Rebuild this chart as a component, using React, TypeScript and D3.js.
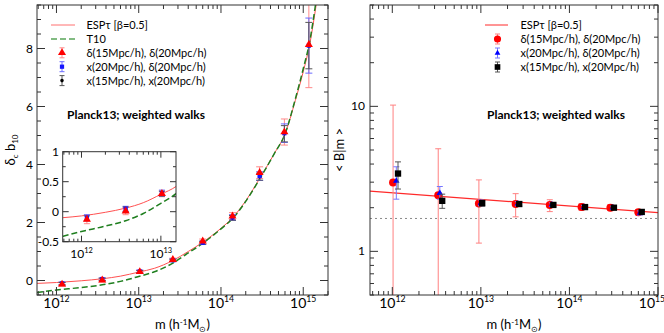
import React, { useEffect, useRef } from 'react';
import * as d3 from 'd3';

// ---- left panel: delta_c b10 vs m
const leftMass = [1.17e12, 3.6e12, 1.03e13, 2.6e13, 6.0e13, 1.38e14, 2.95e14, 5.9e14, 1.17e15];
const redTri = [-0.13, 0.01, 0.3, 0.72, 1.36, 2.22, 3.72, 5.12, 8.13];
const redTriErr = [0.07, 0.06, 0.05, 0.05, 0.07, 0.12, 0.2, 0.45, 1.48];
const blueSq = [-0.1, 0.05, 0.31, 0.7, 1.3, 2.17, 3.6, 5.08, 8.1];
const blueSqErr = [0.05, 0.04, 0.05, 0.05, 0.06, 0.1, 0.15, 0.32, 0.95];
const blackDot = [-0.11, 0.04, 0.3, 0.69, 1.3, 2.16, 3.58, 5.06, 8.1];
const blackDotErr = [0.04, 0.04, 0.04, 0.04, 0.05, 0.08, 0.12, 0.28, 0.8];

// curves
const curveMass = [5.8e11, 1e12, 2e12, 3.6e12, 6e12, 1e13, 1.55e13, 2.6e13, 4e13, 6e13, 1e14, 1.4e14, 2e14, 3e14, 4.5e14, 6e14, 8e14, 1e15, 1.2e15, 1.4e15, 1.7e15, 2e15];
const espVal = [-0.1, -0.07, -0.01, 0.06, 0.15, 0.29, 0.42, 0.69, 1.0, 1.32, 1.8, 2.18, 2.75, 3.55, 4.4, 5.05, 6.2, 7.2, 8.15, 9.3, 11.0, 12.8];
const t10Val = [-0.41, -0.33, -0.24, -0.15, -0.03, 0.14, 0.3, 0.6, 0.95, 1.28, 1.78, 2.15, 2.73, 3.53, 4.4, 5.05, 6.25, 7.3, 8.25, 9.45, 11.2, 13.0];

// ---- right panel: <B|m> vs m
const rMassRed = [1.02e12, 3.3e12, 9.5e12, 2.47e13, 6.0e13, 1.37e14, 2.9e14, 6.0e14];
const rRed = [2.98, 2.44, 2.14, 2.12, 2.09, 2.02, 2.0, 1.86];
const rRedHi = [10.2, 5.1, 3.11, 2.5, 2.27, 2.13, 2.1, 1.94];
const rRedLo = [0.1, 0.1, 1.14, 1.73, 1.88, 1.92, 1.91, 1.78];
const rMassBlue = [1.11e12, 3.44e12, 1.0e13, 2.62e13, 6.34e13, 1.46e14, 3.1e14, 6.27e14];
const rBlue = [3.06, 2.52, 2.16, 2.13, 2.1, 2.02, 2.0, 1.84];
const rBlueHi = [3.83, 2.8, 2.26, 2.2, 2.16, 2.07, 2.05, 1.9];
const rBlueLo = [2.29, 2.29, 2.06, 2.06, 2.04, 1.97, 1.95, 1.78];
const rMassBlack = [1.16e12, 3.66e12, 1.035e13, 2.71e13, 6.58e13, 1.5e14, 3.18e14, 6.55e14];
const rBlack = [3.44, 2.23, 2.15, 2.12, 2.09, 2.02, 2.0, 1.87];
const rBlackHi = [4.14, 2.48, 2.25, 2.2, 2.15, 2.07, 2.05, 1.93];
const rBlackLo = [2.69, 1.98, 2.05, 2.05, 2.03, 1.97, 1.95, 1.81];
const espBMass = [5.6e11, 1e15];
const espBVal = [2.6, 1.85];
const deltaC = 1.686;

const legendLeft = ['ESPτ [β=0.5]', 'T10', 'δ(15Mpc/h), δ(20Mpc/h)', 'x(20Mpc/h), δ(20Mpc/h)', 'x(15Mpc/h), x(20Mpc/h)'];
const legendRight = ['ESPτ [β=0.5]', 'δ(15Mpc/h), δ(20Mpc/h)', 'x(20Mpc/h), δ(20Mpc/h)', 'x(15Mpc/h), x(20Mpc/h)'];

function logTicks(lo, hi) {
  const out = [];
  for (let d = Math.floor(Math.log10(lo)); d <= Math.ceil(Math.log10(hi)); d++) {
    for (let k = 1; k < 10; k++) {
      const v = k * Math.pow(10, d);
      if (v >= lo * 0.999 && v <= hi * 1.001) out.push({ v, major: k === 1, exp: d });
    }
  }
  return out;
}

export default function App() {
  const svgRef = useRef(null);

  useEffect(() => {
    const svg = d3.select(svgRef.current);
    svg.selectAll('*').remove();
    svg.attr('font-family', 'Lato, "Open Sans", sans-serif');
    const axisCol = '#333';

    const clip = (id, x0, x1, y0, y1) => {
      svg.append('clipPath').attr('id', id).append('rect')
        .attr('x', x0).attr('y', y0).attr('width', x1 - x0).attr('height', y1 - y0);
    };

    const frame = (g, x0, x1, y0, y1) => {
      g.append('rect').attr('x', x0).attr('y', y0).attr('width', x1 - x0).attr('height', y1 - y0)
        .attr('fill', 'none').attr('stroke', axisCol).attr('stroke-width', 1);
    };

    const xTickMarks = (g, ticks, sx, y0, y1, big, small) => {
      ticks.forEach((t) => {
        const x = sx(t.v);
        const len = t.major ? big : small;
        g.append('line').attr('x1', x).attr('x2', x).attr('y1', y1).attr('y2', y1 - len).attr('stroke', axisCol);
        g.append('line').attr('x1', x).attr('x2', x).attr('y1', y0).attr('y2', y0 + len).attr('stroke', axisCol);
      });
    };
    const yTickMarks = (g, ticks, sy, x0, x1, big, small) => {
      ticks.forEach((t) => {
        const y = sy(t.v);
        const len = t.major ? big : small;
        g.append('line').attr('y1', y).attr('y2', y).attr('x1', x0).attr('x2', x0 + len).attr('stroke', axisCol);
        g.append('line').attr('y1', y).attr('y2', y).attr('x1', x1).attr('x2', x1 - len).attr('stroke', axisCol);
      });
    };
    const powLabel = (g, x, y, exp, size) => {
      const t = g.append('text').attr('x', x).attr('y', y).attr('text-anchor', 'middle').attr('font-size', size);
      t.append('tspan').text('10');
      t.append('tspan').attr('dy', -size * 0.45).attr('font-size', size * 0.62).text(exp);
    };
    const errBar = (g, x, yTop, yBot, color, cap) => {
      g.append('line').attr('x1', x).attr('x2', x).attr('y1', yTop).attr('y2', yBot).attr('stroke', color);
      [yTop, yBot].forEach((y) => {
        g.append('line').attr('x1', x - cap / 2).attr('x2', x + cap / 2).attr('y1', y).attr('y2', y).attr('stroke', color);
      });
    };
    const mark = (g, type, size, x, y, color) => {
      g.append('path').attr('d', d3.symbol().type(type).size(size)()).attr('fill', color)
        .attr('transform', `translate(${x},${y})`);
    };
    const massTitle = (g, x) => {
      g.append('text').attr('x', x).attr('y', 329).attr('text-anchor', 'middle').attr('font-size', 13)
        .call((t) => {
          t.append('tspan').text('m (h');
          t.append('tspan').attr('dy', -4).attr('font-size', 8).text('-1');
          t.append('tspan').attr('dy', 4).text('M');
          t.append('tspan').attr('dy', 3).attr('font-size', 8).text('⊙');
          t.append('tspan').attr('dy', -3).text(')');
        });
    };

    // ================= left panel
    const L = { x0: 37, x1: 328, y0: 5, y1: 295 };
    const xL = d3.scaleLog().domain([5.8e11, 2e15]).range([L.x0, L.x1]);
    const yL = d3.scaleLinear().domain([-0.5, 9.5]).range([L.y1, L.y0]);
    clip('clipL', L.x0, L.x1, L.y0, L.y1);
    const gL = svg.append('g');
    const pL = gL.append('g').attr('clip-path', 'url(#clipL)');

    const lineL = (vals) => d3.line().curve(d3.curveMonotoneX)
      .x((d, i) => xL(curveMass[i])).y((d) => yL(d))(vals);
    pL.append('path').attr('d', lineL(espVal)).attr('fill', 'none').attr('stroke', '#ff5050').attr('stroke-width', 1);
    pL.append('path').attr('d', lineL(t10Val)).attr('fill', 'none').attr('stroke', '#1f7f1f')
      .attr('stroke-width', 1.5).attr('stroke-dasharray', '6,3');

    const leftSeries = [
      { v: redTri, e: redTriErr, bar: '#ff8a8a', col: '#ff0000', type: d3.symbolTriangle, size: 28 },
      { v: blueSq, e: blueSqErr, bar: '#6a6aff', col: '#1515ff', type: d3.symbolSquare, size: 18 },
      { v: blackDot, e: blackDotErr, bar: '#555', col: '#000', type: d3.symbolCircle, size: 10 },
    ];
    const drawLeftPoints = (g, sx, sy, cap) => {
      leftSeries.forEach((s) => {
        leftMass.forEach((m, i) => errBar(g, sx(m), sy(s.v[i] + s.e[i]), sy(s.v[i] - s.e[i]), s.bar, cap));
      });
      [2, 1, 0].forEach((k) => {
        const s = leftSeries[k];
        leftMass.forEach((m, i) => mark(g, s.type, s.size, sx(m), sy(s.v[i]), s.col));
      });
    };
    drawLeftPoints(pL, xL, yL, 7);

    frame(gL, L.x0, L.x1, L.y0, L.y1);
    const xtL = logTicks(5.8e11, 2e15);
    xTickMarks(gL, xtL, xL, L.y0, L.y1, 8, 4);
    const ytL = d3.range(-0.5, 9.51, 0.5).map((v) => ({ v, major: Math.abs(v % 2) < 1e-9 }));
    yTickMarks(gL, ytL, yL, L.x0, L.x1, 8, 4);
    ytL.filter((t) => t.major).forEach((t) => {
      gL.append('text').attr('x', 33).attr('y', yL(t.v) + 4).attr('text-anchor', 'end').attr('font-size', 12).text(t.v);
    });
    xtL.filter((t) => t.major).forEach((t) => powLabel(gL, xL(t.v), 308, t.exp, 14));
    massTitle(gL, (L.x0 + L.x1) / 2);
    gL.append('text').attr('transform', `translate(15,${(L.y0 + L.y1) / 2}) rotate(-90)`).attr('text-anchor', 'middle')
      .attr('font-size', 13)
      .call((t) => {
        t.append('tspan').text('δ');
        t.append('tspan').attr('dy', 3).attr('font-size', 8).text('c');
        t.append('tspan').attr('dy', -3).text(' b');
        t.append('tspan').attr('dy', 3).attr('font-size', 8).text('10');
      });
    gL.append('text').attr('x', 67).attr('y', 119).attr('font-size', 12).attr('font-weight', 'bold')
      .text('Planck13; weighted walks');

    // legend left
    const lgY = (i) => 25 + i * 13.9;
    gL.append('line').attr('x1', 51).attr('x2', 75).attr('y1', lgY(0)).attr('y2', lgY(0)).attr('stroke', '#ff7070');
    gL.append('line').attr('x1', 51).attr('x2', 75).attr('y1', lgY(1)).attr('y2', lgY(1)).attr('stroke', '#5aa55a')
      .attr('stroke-width', 1.5).attr('stroke-dasharray', '6,3');
    leftSeries.forEach((s, k) => {
      const y = lgY(k + 2);
      errBar(gL, 62, y - 5, y + 5, s.bar, 5);
      mark(gL, s.type, s.size, 62, y, s.col);
    });
    legendLeft.forEach((txt, i) => {
      gL.append('text').attr('x', 86.5).attr('y', lgY(i) + 4).attr('font-size', 11).text(txt);
    });

    // inset
    const I = { x0: 62.7, x1: 176, y0: 151.7, y1: 241.7 };
    const xI = d3.scaleLog().domain([5.8e11, 1.55e13]).range([I.x0, I.x1]);
    const yI = d3.scaleLinear().domain([-0.5, 1]).range([I.y1, I.y0]);
    clip('clipI', I.x0, I.x1, I.y0, I.y1);
    const gI = svg.append('g');
    gI.append('rect').attr('x', I.x0).attr('y', I.y0).attr('width', I.x1 - I.x0).attr('height', I.y1 - I.y0).attr('fill', '#fff');
    const pI = gI.append('g').attr('clip-path', 'url(#clipI)');
    const lineI = (vals) => d3.line().curve(d3.curveMonotoneX)
      .x((d, i) => xI(curveMass[i])).y((d) => yI(d))(vals);
    pI.append('path').attr('d', lineI(espVal)).attr('fill', 'none').attr('stroke', '#ff5050').attr('stroke-width', 1);
    pI.append('path').attr('d', lineI(t10Val)).attr('fill', 'none').attr('stroke', '#1f7f1f')
      .attr('stroke-width', 1.5).attr('stroke-dasharray', '6,3');
    drawLeftPoints(pI, xI, yI, 6);
    frame(gI, I.x0, I.x1, I.y0, I.y1);
    const xtI = logTicks(5.8e11, 1.55e13);
    xTickMarks(gI, xtI, xI, I.y0, I.y1, 6, 3);
    const ytI = d3.range(-0.5, 1.01, 0.25).map((v) => ({ v, major: Math.abs(v % 0.5) < 1e-9 }));
    yTickMarks(gI, ytI, yI, I.x0, I.x1, 6, 3);
    ytI.filter((t) => t.major).forEach((t) => {
      gI.append('text').attr('x', 59).attr('y', yI(t.v) + 4).attr('text-anchor', 'end').attr('font-size', 12)
        .text(String(t.v));
    });
    xtI.filter((t) => t.major).forEach((t) => powLabel(gI, xI(t.v), 258, t.exp, 12));

    // ================= right panel
    const R = { x0: 370, x1: 658, y0: 5, y1: 295 };
    const xR = d3.scaleLog().domain([5.6e11, 1e15]).range([R.x0, R.x1]);
    const yR = d3.scaleLog().domain([0.5, 50]).range([R.y1, R.y0]);
    clip('clipR', R.x0, R.x1, R.y0, R.y1);
    const gR = svg.append('g');
    const pR = gR.append('g').attr('clip-path', 'url(#clipR)');

    pR.append('line').attr('x1', R.x0).attr('x2', R.x1).attr('y1', yR(deltaC)).attr('y2', yR(deltaC))
      .attr('stroke', '#888').attr('stroke-dasharray', '2,3');
    pR.append('path').attr('d', d3.line().x((d, i) => xR(espBMass[i])).y((d) => yR(d))(espBVal))
      .attr('fill', 'none').attr('stroke', '#ff2a2a').attr('stroke-width', 1.2);

    const rightSeries = [
      { m: rMassRed, v: rRed, hi: rRedHi, lo: rRedLo, bar: '#ff8080', col: '#ff0000', type: d3.symbolCircle, size: 50 },
      { m: rMassBlue, v: rBlue, hi: rBlueHi, lo: rBlueLo, bar: '#7777ff', col: '#0000ff', type: d3.symbolTriangle, size: 18 },
      { m: rMassBlack, v: rBlack, hi: rBlackHi, lo: rBlackLo, bar: '#555', col: '#000', type: d3.symbolSquare, size: 40 },
    ];
    rightSeries.forEach((s) => {
      s.m.forEach((m, i) => errBar(pR, xR(m), yR(s.hi[i]), yR(s.lo[i]), s.bar, 6));
      s.m.forEach((m, i) => mark(pR, s.type, s.size, xR(m), yR(s.v[i]), s.col));
    });

    frame(gR, R.x0, R.x1, R.y0, R.y1);
    const xtR = logTicks(5.6e11, 1e15);
    xTickMarks(gR, xtR, xR, R.y0, R.y1, 8, 4);
    const ytR = logTicks(0.5, 50);
    yTickMarks(gR, ytR, yR, R.x0, R.x1, 8, 4);
    ytR.filter((t) => t.major).forEach((t) => {
      gR.append('text').attr('x', 365).attr('y', yR(t.v) + 4).attr('text-anchor', 'end').attr('font-size', 12).text(t.v);
    });
    xtR.filter((t) => t.major).forEach((t) => powLabel(gR, Math.min(xR(t.v), 652), 308, t.exp, 14));
    massTitle(gR, (R.x0 + R.x1) / 2);
    gR.append('text').attr('transform', `translate(344,${(R.y0 + R.y1) / 2}) rotate(-90)`).attr('text-anchor', 'middle')
      .attr('font-size', 13).text('< B|m >');
    gR.append('text').attr('x', 487).attr('y', 119).attr('font-size', 12).attr('font-weight', 'bold')
      .text('Planck13; weighted walks');

    const rgY = (i) => 25 + i * 14;
    gR.append('line').attr('x1', 485).attr('x2', 508).attr('y1', rgY(0)).attr('y2', rgY(0)).attr('stroke', '#ff2a2a');
    rightSeries.forEach((s, k) => {
      const y = rgY(k + 1);
      errBar(gR, 497.5, y - 5, y + 5, s.bar, 5);
      mark(gR, s.type, s.size * 0.8, 497.5, y, s.col);
    });
    legendRight.forEach((txt, i) => {
      gR.append('text').attr('x', 520.5).attr('y', rgY(i) + 4).attr('font-size', 11).text(txt);
    });
  }, []);

  return (
    <svg ref={svgRef} width={664} height={333}
      style={{ position: 'absolute', left: 0, top: 0, background: '#fff' }} />
  );
}
